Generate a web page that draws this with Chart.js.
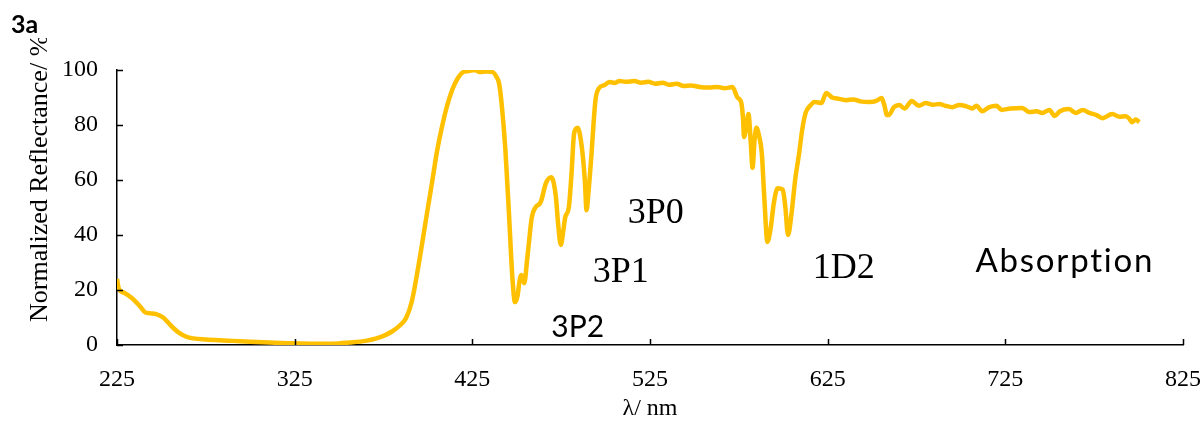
<!DOCTYPE html>
<html>
<head>
<meta charset="utf-8">
<script src="https://cdn.jsdelivr.net/npm/chart.js@4.4.1/dist/chart.umd.min.js"></script>
<style>
  html, body { margin: 0; padding: 0; background: #fff; }
  #chart { display: block; }
</style>
</head>
<body>
<canvas id="chart" width="1202" height="425"></canvas>
<script>
// wavelength (nm) and normalized reflectance (%)
const wavelength = [
  225, 226, 229, 233.5, 238, 241, 244, 247, 251, 254, 257, 260, 264, 268, 275, 283, 290, 300, 311, 323,
  334, 346, 356, 365, 371, 376, 380, 384, 387.7, 391, 395, 399, 402.3, 405, 407.8, 410.8, 413.8, 416.8, 419.3, 422.8,
  426.8, 428.8, 432.8, 436.2, 438.6, 440.1, 441.6, 443.6, 445.6, 447.6, 449, 450.5, 451.5, 452.6, 454.2, 456, 458.5, 460.5, 463.5, 466.5,
  469.5, 472, 473.3, 474.8, 476.3, 477.3, 479.3, 480.8, 482.3, 484.3, 486.8, 488.3, 489.3, 490.3, 491.8, 494.3, 496.3, 499.3, 502.3, 505.3,
  507.8, 511.2, 516.2, 520, 524, 528, 532, 536, 540, 544, 548, 553, 558, 563, 567, 571.4, 574.2, 576.4, 577.4, 577.9,
  579.4, 580.4, 581.7, 582.7, 583.9, 584.9, 586.4, 587.9, 589.3, 591.1, 592.8, 594.8, 596.8, 599.7, 601.2, 602.7, 604.7, 606.7, 609, 610.6,
  612.6, 615.1, 617.6, 621.5, 624.2, 627.5, 631.5, 635.5, 639.4, 643.4, 648.4, 652.4, 655.4, 656.9, 658.4, 659.4, 662.3, 665.3, 668.3, 672.3,
  676.3, 680.2, 684.2, 687.9, 691.2, 695.1, 699.1, 703.1, 706.4, 708.7, 712, 716, 720, 722.9, 727.9, 734.5, 738.5, 742.5, 745.8, 749.8,
  752.7, 755.7, 760.7, 764.7, 768.6, 772.3, 776.3, 779.6, 785.2, 789.2, 792.5, 794.5, 796.4, 798.4, 800.4
];
const reflectance = [
  24, 20.5, 19, 17, 14, 11.8, 11.5, 11.2, 10, 8, 6, 4.4, 3, 2.4, 2.0, 1.7, 1.5, 1.2, 0.9, 0.6,
  0.5, 0.5, 0.9, 1.5, 2.4, 3.6, 5, 7, 9.8, 16, 30, 46, 59, 70, 79, 87, 93, 97, 99, 99.6,
  100, 99.3, 99.5, 99.3, 97.5, 95, 87, 71, 48, 24, 15.6, 18, 23, 25.5, 22.5, 32, 46.5, 50, 52, 59,
  61, 54, 44, 36.4, 42, 46.5, 50, 62, 77, 79, 71, 60, 49, 55, 67, 89, 93.4, 94.5, 95.6, 95.3,
  96, 95.7, 96, 95.4, 95.7, 95, 95.4, 94.6, 95, 94.2, 94.4, 93.8, 93.6, 93.8, 93.4, 93.8, 90, 88, 82, 75.6,
  80, 84, 74, 64.4, 75, 79, 76, 70, 54, 37.5, 42, 52, 57, 56.5, 50, 40, 48, 60, 70, 78,
  84.4, 87, 88.4, 88, 91.6, 90, 89.5, 89, 89.3, 88.6, 88.4, 88.8, 89.8, 87.2, 83.6, 83.6, 86.5, 87.3, 86, 88.7,
  87, 88, 87.4, 87.6, 87, 86.5, 87.3, 86.8, 86, 87, 85, 86.5, 87, 85.5, 86, 86.2, 84.7, 85, 84.4, 85.5,
  83.3, 85, 85.8, 84.4, 85.5, 84.4, 83.6, 82.5, 84, 83, 83.2, 82.5, 81, 82, 81
];

const xTicks = [225, 325, 425, 525, 625, 725, 825];
const yTicks = [0, 20, 40, 60, 80, 100];

// text labels placed in data coordinates
const notes = [
  { text: "3P0", x: 528.2, y: 44.4, font: "36px 'Liberation Serif'", spacing: "0px" },
  { text: "3P1", x: 508.5, y: 22.9, font: "36px 'Liberation Serif'", spacing: "0px" },
  { text: "1D2", x: 634, y: 24.4, font: "36px 'Liberation Serif'", spacing: "0px" },
  { text: "3P2", x: 484.3, y: 2.9, font: "30px Lato", spacing: "0px" },
  { text: "Absorption", x: 758.5, y: 26.5, font: "33px Lato", spacing: "1.8px" }
];

const serif = "'Liberation Serif', 'Times New Roman', serif";

const decorations = {
  id: "decorations",
  afterDraw(chart) {
    const ctx = chart.ctx;
    const xs = chart.scales.x, ys = chart.scales.y;
    const area = chart.chartArea;
    ctx.save();
    // inward tick marks
    ctx.strokeStyle = "#000";
    ctx.lineWidth = 1.5;
    ctx.beginPath();
    xTicks.forEach(v => {
      const px = Math.round(xs.getPixelForValue(v)) + 0.5;
      ctx.moveTo(px, area.bottom);
      ctx.lineTo(px, area.bottom - 6);
    });
    yTicks.forEach(v => {
      const py = Math.round(ys.getPixelForValue(v)) + 0.5;
      ctx.moveTo(area.left, py);
      ctx.lineTo(area.left + 6, py);
    });
    ctx.stroke();

    // annotations
    ctx.fillStyle = "#000";
    ctx.textAlign = "center";
    ctx.textBaseline = "alphabetic";
    notes.forEach(n => {
      ctx.font = n.font;
      ctx.letterSpacing = n.spacing;
      ctx.fillText(n.text, xs.getPixelForValue(n.x), ys.getPixelForValue(n.y));
    });
    ctx.letterSpacing = "0px";

    // x axis title
    ctx.font = "24px " + serif;
    ctx.fillText("λ/ nm", (area.left + area.right) / 2, 415);

    // panel label
    ctx.textAlign = "left";
    ctx.font = "bold 25px Lato";
    ctx.fillText("3a", 11, 33);

    // y axis title, clipped at the top like the original
    ctx.save();
    ctx.beginPath();
    ctx.rect(0, 38, 110, 400);
    ctx.clip();
    ctx.translate(47, 322);
    ctx.rotate(-Math.PI / 2);
    ctx.font = "26px " + serif;
    ctx.textAlign = "left";
    ctx.fillText("Normalized Reflectance/ %", 0, 0);
    ctx.restore();

    ctx.restore();
  }
};

const ctx = document.getElementById("chart").getContext("2d");
const chart = new Chart(ctx, {
  type: "line",
  data: {
    datasets: [
      {
        label: "Reflectance",
        data: wavelength.map((w, i) => ({ x: w, y: reflectance[i] })),
        borderColor: "#FFC000",
        borderWidth: 4.5,
        pointRadius: 0,
        fill: false,
        cubicInterpolationMode: "monotone"
      }
    ]
  },
  options: {
    responsive: false,
    animation: false,
    layout: { padding: { left: 0, right: 19, top: 70, bottom: 0 } },
    plugins: {
      legend: { display: false },
      tooltip: { enabled: false }
    },
    scales: {
      x: {
        type: "linear",
        min: 225,
        max: 825,
        afterBuildTicks: scale => { scale.ticks = xTicks.map(v => ({ value: v })); },
        afterFit: scale => {
          scale.height = 80;
          scale.paddingLeft = 0;
          scale.paddingRight = 0;
        },
        grid: { display: false, drawTicks: false },
        border: { display: true, color: "#000", width: 1.5 },
        ticks: {
          color: "#000",
          font: { family: serif, size: 24 },
          padding: 20,
          maxRotation: 0,
          autoSkip: false
        }
      },
      y: {
        min: 0,
        max: 100,
        afterBuildTicks: scale => { scale.ticks = yTicks.map(v => ({ value: v })); },
        afterFit: scale => {
          scale.width = 117;
          scale.paddingTop = 0;
          scale.paddingBottom = 0;
        },
        grid: { display: false, drawTicks: false },
        border: { display: true, color: "#000", width: 1.5 },
        ticks: {
          color: "#000",
          font: { family: serif, size: 24 },
          padding: 19
        }
      }
    }
  },
  plugins: [decorations]
});
</script>
</body>
</html>
